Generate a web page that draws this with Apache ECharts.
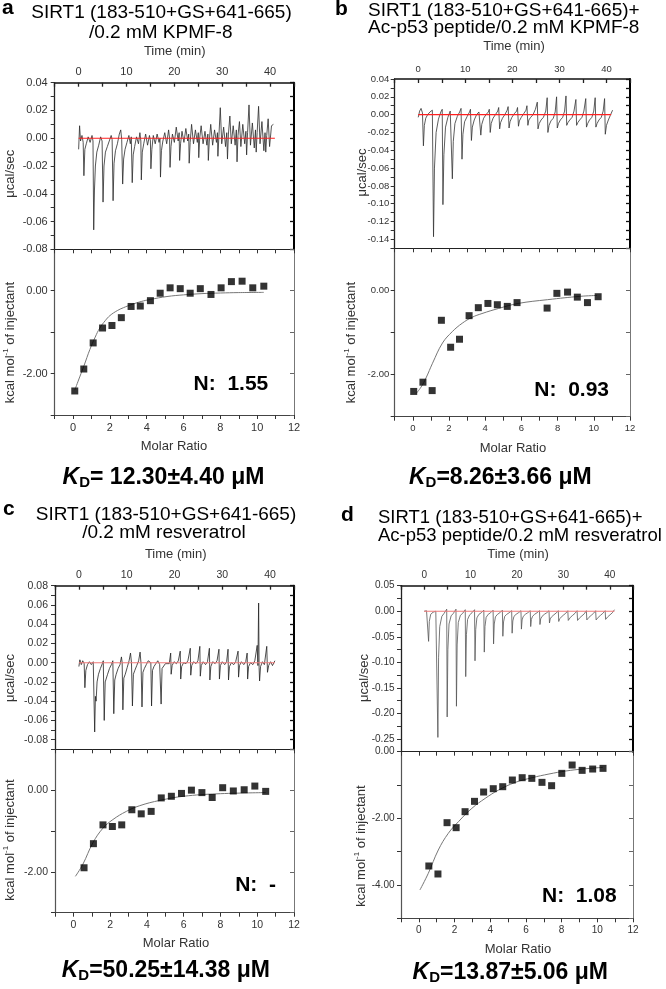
<!DOCTYPE html>
<html><head><meta charset="utf-8">
<script src="https://cdn.jsdelivr.net/npm/echarts/dist/echarts.min.js"></script>
<style>html,body{margin:0;padding:0;background:#fff}#c{width:666px;height:989px}</style>
</head><body><div id="c"></div>
<script>
// ---------------- DATA ----------------
const titlesLine1 = ['SIRT1 (183-510+GS+641-665)','SIRT1 (183-510+GS+641-665)+','SIRT1 (183-510+GS+641-665)','SIRT1 (183-510+GS+641-665)+'];
const titlesLine2 = ['/0.2 mM KPMF-8','Ac-p53 peptide/0.2 mM KPMF-8','/0.2 mM resveratrol','Ac-p53 peptide/0.2 mM resveratrol'];
const panelLetters = ['a','b','c','d'];
const nValues = ['1.55','0.93','-','1.08'];
const kdTexts = ['= 12.30\u00b14.40 \u03bcM','=8.26\u00b13.66 \u03bcM','=50.25\u00b114.38 \u03bcM','=13.87\u00b15.06 \u03bcM'];

// raw thermograms [time (min), µcal/sec]
const traceA = [[0,-0.008],[0.2,0.009],[0.4,-0.002],[0.7,0.002],[0.95,-0.003],[1.1,-0.027],[1.3,-0.008],[1.6,-0.004],[2.0,0.001],[2.4,-0.003],[2.8,0.002],
[3.0,-0.002],[3.15,-0.066],[3.3,-0.038],[3.5,-0.02],[3.8,-0.01],[4.2,-0.005],[4.6,0.001],[4.9,-0.002],
[5.1,-0.046],[5.3,-0.02],[5.6,-0.01],[6.0,-0.006],[6.4,-0.002],[6.8,0.002],[7.0,-0.001],
[7.2,-0.045],[7.4,-0.018],[7.7,-0.009],[8.1,-0.004],[8.5,0.003],[8.8,0.006],[9.0,-0.001],
[9.2,-0.033],[9.4,-0.015],[9.7,-0.008],[10.1,-0.003],[10.5,0.002],[10.8,-0.004],[11.0,0.001],
[11.2,-0.032],[11.4,-0.012],[11.7,-0.006],[12.1,0.001],[12.5,-0.004],[12.8,0.004],[13.0,-0.002],
[13.1,-0.030],[13.3,-0.01],[13.6,-0.004],[14.0,0.003],[14.4,-0.005],[14.8,0.002],[15.0,-0.002],
[15.1,-0.022],[15.3,-0.008],[15.6,0.002],[16.0,-0.004],[16.4,0.003],[16.8,-0.003],[17.0,0.0],
[17.1,-0.028],[17.3,-0.009],[17.6,-0.002],[18.0,0.004],[18.4,-0.004],[18.8,0.006],[19.0,0.0],
[19.1,-0.021],[19.3,-0.006],[19.6,0.003],[20.0,-0.003],[20.4,0.008],[20.8,-0.002],[21.0,0.004],
[21.1,-0.016],[21.3,-0.004],[21.6,0.005],[22.0,-0.003],[22.4,0.007],[22.8,-0.002],[23.0,0.003],
[23.1,-0.018],[23.3,-0.003],[23.6,0.01],[24.0,-0.004],[24.4,0.006],[24.8,-0.003],[25.0,0.004],
[25.1,-0.014],[25.3,0.0],[25.6,0.009],[26.0,-0.004],[26.4,0.005],[26.8,-0.005],[27.0,0.003],
[27.1,-0.016],[27.3,-0.002],[27.6,0.01],[28.0,-0.005],[28.4,0.006],[28.8,-0.003],[29.0,0.004],
[29.1,-0.013],[29.3,0.001],[29.6,0.022],[29.9,-0.004],[30.3,0.008],[30.7,-0.006],[30.95,0.004],
[31.1,-0.015],[31.3,0.003],[31.6,0.016],[31.9,-0.004],[32.3,0.009],[32.7,-0.005],[32.95,0.006],
[33.1,-0.017],[33.3,0.002],[33.6,0.012],[33.9,-0.006],[34.3,0.01],[34.7,-0.004],[34.95,0.005],
[35.1,-0.012],[35.3,0.004],[35.6,0.024],[35.9,-0.005],[36.3,0.011],[36.7,-0.007],[36.95,0.006],
[37.1,-0.01],[37.3,0.004],[37.6,0.023],[37.9,-0.004],[38.3,0.012],[38.7,-0.009],[38.95,0.004],
[39.1,-0.01],[39.3,0.002],[39.6,0.014],[39.9,-0.006],[40.3,0.009],[40.7,0.01]];

const traceB = [[0,-0.003],[0.3,0.004],[0.6,0.007],[0.9,0.002],
[1.1,-0.035],[1.3,-0.012],[1.6,-0.004],[2.0,0.0],[2.5,0.003],[3.0,0.005],
[3.25,-0.137],[3.45,-0.06],[3.8,-0.02],[4.3,-0.005],[4.8,0.003],[5.1,0.006],
[5.25,-0.101],[5.45,-0.045],[5.8,-0.014],[6.3,-0.003],[6.8,0.004],[7.1,0.006],
[7.25,-0.072],[7.45,-0.03],[7.8,-0.01],[8.3,-0.002],[8.8,0.003],[9.1,0.007],
[9.3,-0.05],[9.5,-0.022],[9.85,-0.008],[10.4,-0.002],[10.9,0.003],[11.1,0.006],
[11.3,-0.029],[11.5,-0.014],[11.9,-0.006],[12.4,0.0],[12.9,0.003],[13.1,0.005],
[13.3,-0.023],[13.5,-0.011],[13.9,-0.004],[14.4,0.0],[14.9,0.003],[15.1,0.006],
[15.3,-0.02],[15.5,-0.01],[15.9,-0.004],[16.4,0.0],[16.9,0.004],[17.1,0.008],
[17.3,-0.016],[17.5,-0.009],[17.9,-0.004],[18.4,0.0],[18.9,0.005],[19.1,0.009],
[19.3,-0.015],[19.5,-0.008],[19.9,-0.003],[20.4,0.001],[20.9,0.004],[21.1,0.008],
[21.3,-0.013],[21.5,-0.007],[21.9,-0.003],[22.4,0.001],[22.9,0.005],[23.1,0.01],
[23.3,-0.012],[23.5,-0.006],[23.9,-0.003],[24.4,0.0],[24.9,0.006],[25.3,0.014],
[25.45,-0.016],[25.7,-0.01],[26.1,-0.006],[26.6,-0.003],[27.1,0.004],[27.4,0.019],
[27.55,-0.02],[27.8,-0.012],[28.2,-0.007],[28.7,-0.004],[29.1,0.003],[29.4,0.02],
[29.55,-0.015],[29.8,-0.01],[30.2,-0.006],[30.7,-0.003],[31.1,0.004],[31.4,0.021],
[31.55,-0.012],[31.8,-0.009],[32.2,-0.006],[32.7,-0.003],[33.1,0.004],[33.5,0.017],
[33.65,-0.012],[33.9,-0.009],[34.3,-0.006],[34.8,-0.003],[35.2,0.004],[35.6,0.018],
[35.75,-0.014],[36.0,-0.01],[36.4,-0.006],[36.9,-0.003],[37.3,0.004],[37.6,0.019],
[37.75,-0.014],[38.0,-0.01],[38.4,-0.006],[38.9,-0.003],[39.3,0.004],[39.6,0.018],
[39.75,-0.022],[40.0,-0.012],[40.4,-0.006],[40.8,-0.001],[41.3,0.005]];

const traceC = [[0,-0.004],[0.2,0.003],[0.5,-0.002],[0.8,0.002],[1.1,-0.001],
[1.25,-0.026],[1.45,-0.008],[1.8,-0.002],[2.2,0.001],[2.6,-0.002],[3.0,0.001],
[3.2,0.0],[3.3,-0.072],[3.45,-0.035],[3.6,-0.04],[3.8,-0.02],[4.1,-0.012],[4.5,-0.006],[4.9,-0.001],[5.1,0.002],
[5.3,-0.06],[5.5,-0.02],[5.7,-0.022],[6.0,-0.012],[6.4,-0.006],[6.8,-0.002],[7.1,0.002],
[7.3,-0.053],[7.5,-0.018],[7.8,-0.012],[8.2,-0.006],[8.6,-0.002],[8.9,0.006],[9.05,0.0],
[9.2,-0.049],[9.4,-0.016],[9.7,-0.012],[10.1,-0.005],[10.5,0.002],[10.8,0.01],[11.0,0.0],
[11.2,-0.045],[11.4,-0.012],[11.7,-0.008],[12.1,-0.003],[12.5,0.002],[12.8,0.011],[13.0,-0.001],
[13.2,-0.046],[13.4,-0.01],[13.7,-0.006],[14.1,-0.002],[14.5,0.002],[14.9,0.004],[15.05,0.0],
[15.2,-0.045],[15.4,-0.008],[15.7,-0.004],[16.1,-0.001],[16.5,0.002],[16.9,-0.002],[17.05,0.0],
[17.2,-0.043],[17.4,-0.006],[17.7,-0.004],[18.1,-0.001],[18.5,0.001],[18.9,-0.001],[19.1,0.0],
[19.2,0.01],[19.3,-0.012],[19.5,-0.003],[19.9,0.001],[20.4,-0.001],[20.8,0.002],[21.1,0.0],
[21.2,0.012],[21.3,-0.017],[21.5,-0.004],[21.9,0.0],[22.4,-0.001],[22.8,0.002],[23.1,0.0],
[23.3,0.015],[23.4,-0.013],[23.6,-0.003],[24.0,0.001],[24.5,-0.001],[24.9,0.002],[25.2,0.0],
[25.3,0.017],[25.4,-0.014],[25.6,-0.003],[26.0,0.001],[26.5,-0.002],[26.9,0.001],[27.2,0.0],
[27.3,0.015],[27.4,-0.018],[27.6,-0.004],[28.0,0.001],[28.5,-0.001],[28.9,0.002],[29.2,0.0],
[29.3,0.014],[29.4,-0.017],[29.6,-0.003],[30.0,0.001],[30.5,-0.002],[30.9,0.001],[31.1,0.0],
[31.2,0.014],[31.3,-0.018],[31.5,-0.004],[31.9,0.0],[32.4,-0.002],[32.8,0.001],[33.2,0.0],
[33.3,0.012],[33.4,-0.015],[33.6,-0.003],[34.0,0.001],[34.5,-0.002],[34.9,0.001],[35.1,0.0],
[35.2,0.01],[35.3,-0.017],[35.5,-0.004],[35.9,0.0],[36.4,-0.002],[36.8,0.002],[37.1,0.0],
[37.3,0.018],[37.45,-0.003],[37.6,0.062],[37.7,-0.005],[37.8,-0.019],[38.0,-0.004],[38.4,0.001],[38.8,-0.002],[39.1,0.0],
[39.3,0.017],[39.45,-0.01],[39.7,-0.003],[40.1,0.001],[40.5,-0.003],[41.0,0.002]];

const traceD = [[0,0.0],[0.5,0.001],[0.85,0.002],
[0.95,-0.059],[1.1,-0.02],[1.4,-0.006],[1.9,-0.002],[2.5,0.0],[2.85,0.003],
[2.95,-0.247],[3.1,-0.09],[3.35,-0.03],[3.8,-0.01],[4.3,-0.004],[4.85,0.004],
[4.95,-0.207],[5.1,-0.075],[5.35,-0.025],[5.8,-0.009],[6.3,-0.004],[6.85,0.004],
[6.95,-0.186],[7.1,-0.066],[7.35,-0.022],[7.8,-0.008],[8.3,-0.004],[8.85,0.003],
[8.95,-0.128],[9.1,-0.046],[9.35,-0.016],[9.8,-0.007],[10.3,-0.003],[10.85,0.003],
[10.95,-0.097],[11.1,-0.036],[11.35,-0.013],[11.8,-0.006],[12.3,-0.003],[12.85,0.002],
[12.95,-0.08],[13.1,-0.03],[13.35,-0.012],[13.8,-0.006],[14.3,-0.003],[14.85,0.002],
[14.95,-0.064],[15.1,-0.025],[15.35,-0.011],[15.8,-0.006],[16.3,-0.003],[16.85,0.002],
[16.95,-0.049],[17.1,-0.021],[17.35,-0.01],[17.8,-0.006],[18.3,-0.003],[18.85,0.001],
[18.95,-0.043],[19.1,-0.019],[19.35,-0.01],[19.8,-0.006],[20.3,-0.003],[20.85,0.001],
[20.95,-0.035],[21.1,-0.017],[21.35,-0.01],[21.8,-0.006],[22.3,-0.003],[22.85,0.001],
[22.95,-0.03],[23.1,-0.016],[23.35,-0.01],[23.8,-0.006],[24.3,-0.003],[24.85,0.001],
[24.95,-0.026],[25.1,-0.015],[25.4,-0.01],[25.9,-0.006],[26.4,-0.003],[26.9,0.001],
[27.0,-0.023],[27.15,-0.015],[27.45,-0.011],[27.95,-0.007],[28.5,-0.003],[28.9,0.001],
[29.0,-0.02],[29.15,-0.015],[29.45,-0.012],[29.95,-0.008],[30.5,-0.004],[30.95,0.001],
[31.05,-0.018],[31.2,-0.015],[31.5,-0.012],[32.0,-0.008],[32.5,-0.004],[32.95,0.001],
[33.05,-0.018],[33.2,-0.016],[33.5,-0.013],[34.0,-0.009],[34.5,-0.005],[34.95,0.001],
[35.05,-0.017],[35.2,-0.015],[35.5,-0.012],[36.0,-0.008],[36.5,-0.004],[36.95,0.001],
[37.05,-0.017],[37.2,-0.015],[37.5,-0.012],[38.0,-0.008],[38.5,-0.004],[39.0,0.001],
[39.1,-0.016],[39.25,-0.014],[39.55,-0.011],[40.05,-0.007],[40.55,-0.003],[41.0,0.003]];

// red baselines
const baseA = [[0,0],[41,0]];
const baseB = [[0,0],[41,0]];
const baseC = [[0,0],[41,0]];
const baseD = [[0,0],[41,0]];

// integrated heats [molar ratio, kcal/mol]
const pointsA = [[0.09,-2.42],[0.58,-1.89],[1.09,-1.26],[1.6,-0.9],[2.11,-0.84],[2.62,-0.65],[3.15,-0.38],[3.65,-0.37],[4.2,-0.24],[4.73,-0.06],[5.27,0.07],[5.82,0.05],[6.36,-0.06],[6.91,0.05],[7.49,-0.09],[8.04,0.07],[8.6,0.22],[9.18,0.23],[9.76,0.07],[10.36,0.11]];
const pointsB = [[0.05,-2.4],[0.56,-2.18],[1.07,-2.38],[1.58,-0.71],[2.09,-1.35],[2.58,-1.16],[3.11,-0.6],[3.62,-0.41],[4.15,-0.31],[4.67,-0.34],[5.22,-0.38],[5.76,-0.29],[7.42,-0.42],[7.96,-0.07],[8.55,-0.04],[9.09,-0.16],[9.65,-0.29],[10.24,-0.15]];
const pointsC = [[0.58,-1.9],[1.09,-1.31],[1.61,-0.85],[2.12,-0.89],[2.63,-0.85],[3.18,-0.48],[3.69,-0.58],[4.23,-0.52],[4.78,-0.19],[5.33,-0.15],[5.88,-0.08],[6.42,0.0],[6.99,-0.06],[7.55,-0.18],[8.12,0.06],[8.7,-0.02],[9.29,0.01],[9.87,0.1],[10.46,-0.03]];
const pointsD = [[0.56,-3.43],[1.07,-3.67],[1.58,-2.13],[2.09,-2.28],[2.59,-1.8],[3.12,-1.49],[3.63,-1.21],[4.17,-1.11],[4.7,-1.05],[5.24,-0.85],[5.79,-0.78],[6.33,-0.8],[6.9,-0.92],[7.44,-1.02],[8.01,-0.65],[8.59,-0.4],[9.15,-0.56],[9.74,-0.52],[10.32,-0.5]];

// fitted curves [molar ratio, kcal/mol]
const fitA = [[0.09,-2.4],[0.36,-2.08],[0.6,-1.8],[0.91,-1.42],[1.2,-1.12],[1.45,-0.9],[1.75,-0.72],[2.0,-0.6],[2.4,-0.48],[2.73,-0.41],[3.2,-0.33],[3.7,-0.26],[4.2,-0.21],[5.1,-0.14],[6.0,-0.1],[7.0,-0.07],[8.0,-0.055],[9.0,-0.045],[10.36,-0.04]];
const fitB = [[0.18,-2.45],[0.45,-2.3],[0.73,-2.08],[1.09,-1.73],[1.64,-1.25],[2.18,-0.98],[2.73,-0.78],[3.27,-0.64],[3.82,-0.55],[4.73,-0.43],[5.82,-0.31],[7.45,-0.22],[9.27,-0.14],[10.18,-0.12]];
const fitC = [[0.11,-2.11],[0.51,-1.82],[1.06,-1.29],[1.61,-0.93],[2.15,-0.72],[2.88,-0.52],[3.61,-0.38],[4.71,-0.25],[5.99,-0.15],[7.81,-0.09],[10.46,-0.06]];
const fitD = [[0.06,-4.15],[0.53,-3.65],[1.09,-2.95],[1.65,-2.45],[2.22,-2.1],[2.97,-1.7],[3.72,-1.4],[4.47,-1.15],[5.41,-0.92],[6.35,-0.78],[7.29,-0.67],[8.23,-0.58],[9.17,-0.52],[10.32,-0.47]];

// ---------------- LAYOUT ----------------
const FONT = '"Liberation Sans", Arial, sans-serif';
const panels = [
  {trace:traceA, base:baseA, pts:pointsA, fit:fitA, L:54.7, R:294, T:82.7, M:249.3, B:415, yU:[-0.08,0.04,0.01], yL:[-3,1], red:'#ff2020', tc:'#2a2a2a', fs:11, mg:7},
  {trace:traceB, base:baseB, pts:pointsB, fit:fitB, L:394.7, R:630, T:79, M:248.3, B:416.7, yU:[-0.15,0.04,0.01], yL:[-3,1], red:'#ff2020', tc:'#333', fs:9.5, mg:5.5},
  {trace:traceC, base:baseC, pts:pointsC, fit:fitC, L:55, R:294, T:585.7, M:749.3, B:912.7, yU:[-0.09,0.08,0.01], yL:[-3,1], red:'#f07a7a', tc:'#222', fs:10.5, mg:7},
  {trace:traceD, base:baseD, pts:pointsD, fit:fitD, L:401, R:633, T:585.7, M:751.7, B:918.3, yU:[-0.275,0.05,0.025], yL:[-5,0], red:'#f07a7a', tc:'#555', fs:10, mg:6.5}
];

const grids=[], xAxes=[], yAxes=[], series=[];
function base(o){
  return Object.assign({type:'value', splitLine:{show:false},
    axisLine:{show:true,onZero:false,lineStyle:{color:'#222',width:1.2}},
    axisTick:{show:true,length:4,lineStyle:{color:'#333',width:1}},
    axisLabel:{show:false}}, o);
}
panels.forEach((p,i)=>{
  const gu=2*i, gl=2*i+1;
  const lab = {fontSize:p.fs, color:'#333', fontFamily:FONT};
  grids.push({left:p.L, top:p.T, width:p.R-p.L, height:p.M-p.T});
  grids.push({left:p.L, top:p.M, width:p.R-p.L, height:p.B-p.M});
  const unit=p.yU[2];
  // x axes
  xAxes.push(base({gridIndex:gu, position:'top', min:-5, max:45, interval:5,
    axisLine:{show:true,onZero:false,lineStyle:{color:'#111',width:1.5}},
    axisTick:{show:true,inside:true,length:4,lineStyle:{color:'#222',width:1.3}},
    axisLabel:Object.assign({show:true, margin:5, formatter:v=>{const r=Math.round(v);return r%10===0?String(r):'';}},lab)}));
  xAxes.push(base({gridIndex:gu, position:'bottom', min:-5, max:45, axisTick:{show:false}}));
  xAxes.push(base({gridIndex:gl, position:'bottom', min:-1, max:12, interval:1,
    axisLine:{show:true,onZero:false,lineStyle:{color:'#444',width:1.2}},
    axisLabel:Object.assign({show:true, margin:7, formatter:v=>{const r=Math.round(v);return r%2===0?String(r):'';}},lab)}));
  xAxes.push(base({gridIndex:gl, position:'top', min:-1, max:12, interval:1,
    axisTick:{show:true,inside:true,length:4,lineStyle:{color:'#333',width:1}}}));
  // y axes
  yAxes.push(base({gridIndex:gu, position:'left', min:p.yU[0], max:p.yU[1], interval:unit,
    axisLine:{show:true,onZero:false,lineStyle:{color:'#222',width:1.3}},
    axisLabel:Object.assign({show:true, margin:p.mg, formatter:v=>{const r=Math.round(v/unit);return r%2===0?(r*unit).toFixed(2):'';}},lab)}));
  yAxes.push(base({gridIndex:gu, position:'right', min:p.yU[0], max:p.yU[1], interval:unit,
    axisLine:{show:true,onZero:false,lineStyle:{color:'#000',width:2}},
    axisTick:{show:true,inside:true,length:4,lineStyle:{color:'#111',width:1.3}}}));
  yAxes.push(base({gridIndex:gl, position:'left', min:p.yL[0], max:p.yL[1], interval:1,
    axisLine:{show:true,onZero:false,lineStyle:{color:'#555',width:1.2}},
    axisLabel:Object.assign({show:true, margin:p.mg, formatter:v=>{const r=Math.round(v);return r%2===0?r.toFixed(2):'';}},lab)}));
  yAxes.push(base({gridIndex:gl, position:'right', min:p.yL[0], max:p.yL[1], interval:1,
    axisLine:{show:true,onZero:false,lineStyle:{color:'#777',width:1}},
    axisTick:{show:true,inside:true,length:4,lineStyle:{color:'#666',width:1}}}));
  // series
  series.push({type:'line', xAxisIndex:4*i, yAxisIndex:4*i, data:p.trace, showSymbol:false, symbol:'none',
    lineStyle:{color:p.tc,width:0.8}, z:2});
  series.push({type:'line', xAxisIndex:4*i, yAxisIndex:4*i, data:p.base, showSymbol:false, symbol:'none',
    lineStyle:{color:p.red,width:1.1}, z:3});
  series.push({type:'line', xAxisIndex:4*i+2, yAxisIndex:4*i+2, data:p.fit, showSymbol:false, symbol:'none', smooth:0.4,
    lineStyle:{color:'#777',width:1}, z:2});
  series.push({type:'scatter', xAxisIndex:4*i+2, yAxisIndex:4*i+2, data:p.pts, symbol:'rect', symbolSize:7,
    itemStyle:{color:'#000'}, z:4});
});

// ---------------- TEXT ----------------
function T(x,y,text,o){
  o=o||{};
  return {type:'text', x:x, y:y, rotation:o.rot||0, z:10, silent:true,
    style:Object.assign({text:text, fill:o.fill||'#000', fontSize:o.size||13, fontFamily:FONT,
      fontWeight:o.weight||'normal', textAlign:o.align||'center', align:o.align||'center',
      textVerticalAlign:'middle', verticalAlign:'middle'}, o.extra||{})};
}
const g=[];
const letterPos=[[2,8.7],[335,9.7],[3,509.7],[341,515.7]];
const titleSize=[19,19,19,18.5];
const t1Pos=[[161.5,13,'center'],[368,11.2,'left'],[166,514.5,'center'],[378,517.8,'left']];
const t2Pos=[[160.7,33,'center'],[368,27.8,'left'],[164,532.5,'center'],[378,535.5,'left']];
const timePos=[[174.7,51.8],[514,46.7],[175.7,554.8],[518,554.8]];
const molarPos=[[174,446.3],[513,448.7],[176,943.7],[518,949.7]];
const ucalPos=[[10,173.7],[362,172.5],[10,678],[364.5,678]];
const kcalPos=[[10,342.5],[351,342.5],[10,840],[361,846]];
const nPos=[[268.3,384.5],[609,390],[276,885.5],[616.7,896]];
const kdPos=[[163.5,477.2],[500.3,477.5],[165.8,970.8],[510.3,972.8]];
for(let i=0;i<4;i++){
  g.push(T(letterPos[i][0],letterPos[i][1],panelLetters[i],{size:21,weight:'bold',align:'left'}));
  g.push(T(t1Pos[i][0],t1Pos[i][1],titlesLine1[i],{size:titleSize[i],align:t1Pos[i][2]}));
  g.push(T(t2Pos[i][0],t2Pos[i][1],titlesLine2[i],{size:titleSize[i],align:t2Pos[i][2]}));
  g.push(T(timePos[i][0],timePos[i][1],'Time (min)',{size:13,fill:'#333'}));
  g.push(T(molarPos[i][0],molarPos[i][1],'Molar Ratio',{size:13,fill:'#333'}));
  g.push(T(ucalPos[i][0],ucalPos[i][1],'\u03bccal/sec',{size:13,fill:'#333',rot:Math.PI/2}));
  g.push(T(kcalPos[i][0],kcalPos[i][1],'{a|kcal mol}{s|-1}{a| of injectant}',{size:13,fill:'#333',rot:Math.PI/2,
    extra:{rich:{a:{fontSize:13,fontFamily:FONT,fill:'#333',lineHeight:16},s:{fontSize:8,fontFamily:FONT,fill:'#333',lineHeight:8,verticalAlign:'top'}}}}));
  g.push(T(nPos[i][0],nPos[i][1],'N:  '+nValues[i],{size:21,weight:'bold',align:'right'}));
  g.push(T(kdPos[i][0],kdPos[i][1],'{k|K}{d|D}{t|'+kdTexts[i]+'}',{size:23,weight:'bold',
    extra:{rich:{k:{fontSize:23,fontWeight:'bold',fontStyle:'italic',fontFamily:FONT,fill:'#000',lineHeight:26},
      d:{fontSize:15,fontWeight:'bold',fontFamily:FONT,fill:'#000',lineHeight:15,verticalAlign:'bottom'},
      t:{fontSize:23,fontWeight:'bold',fontFamily:FONT,fill:'#000',lineHeight:26}}}}));
}

const chart = echarts.init(document.getElementById('c'), null, {renderer:'canvas'});
chart.setOption({animation:false, backgroundColor:'#fff', grid:grids, xAxis:xAxes, yAxis:yAxes, series:series, graphic:{elements:g}});
</script></body></html>
